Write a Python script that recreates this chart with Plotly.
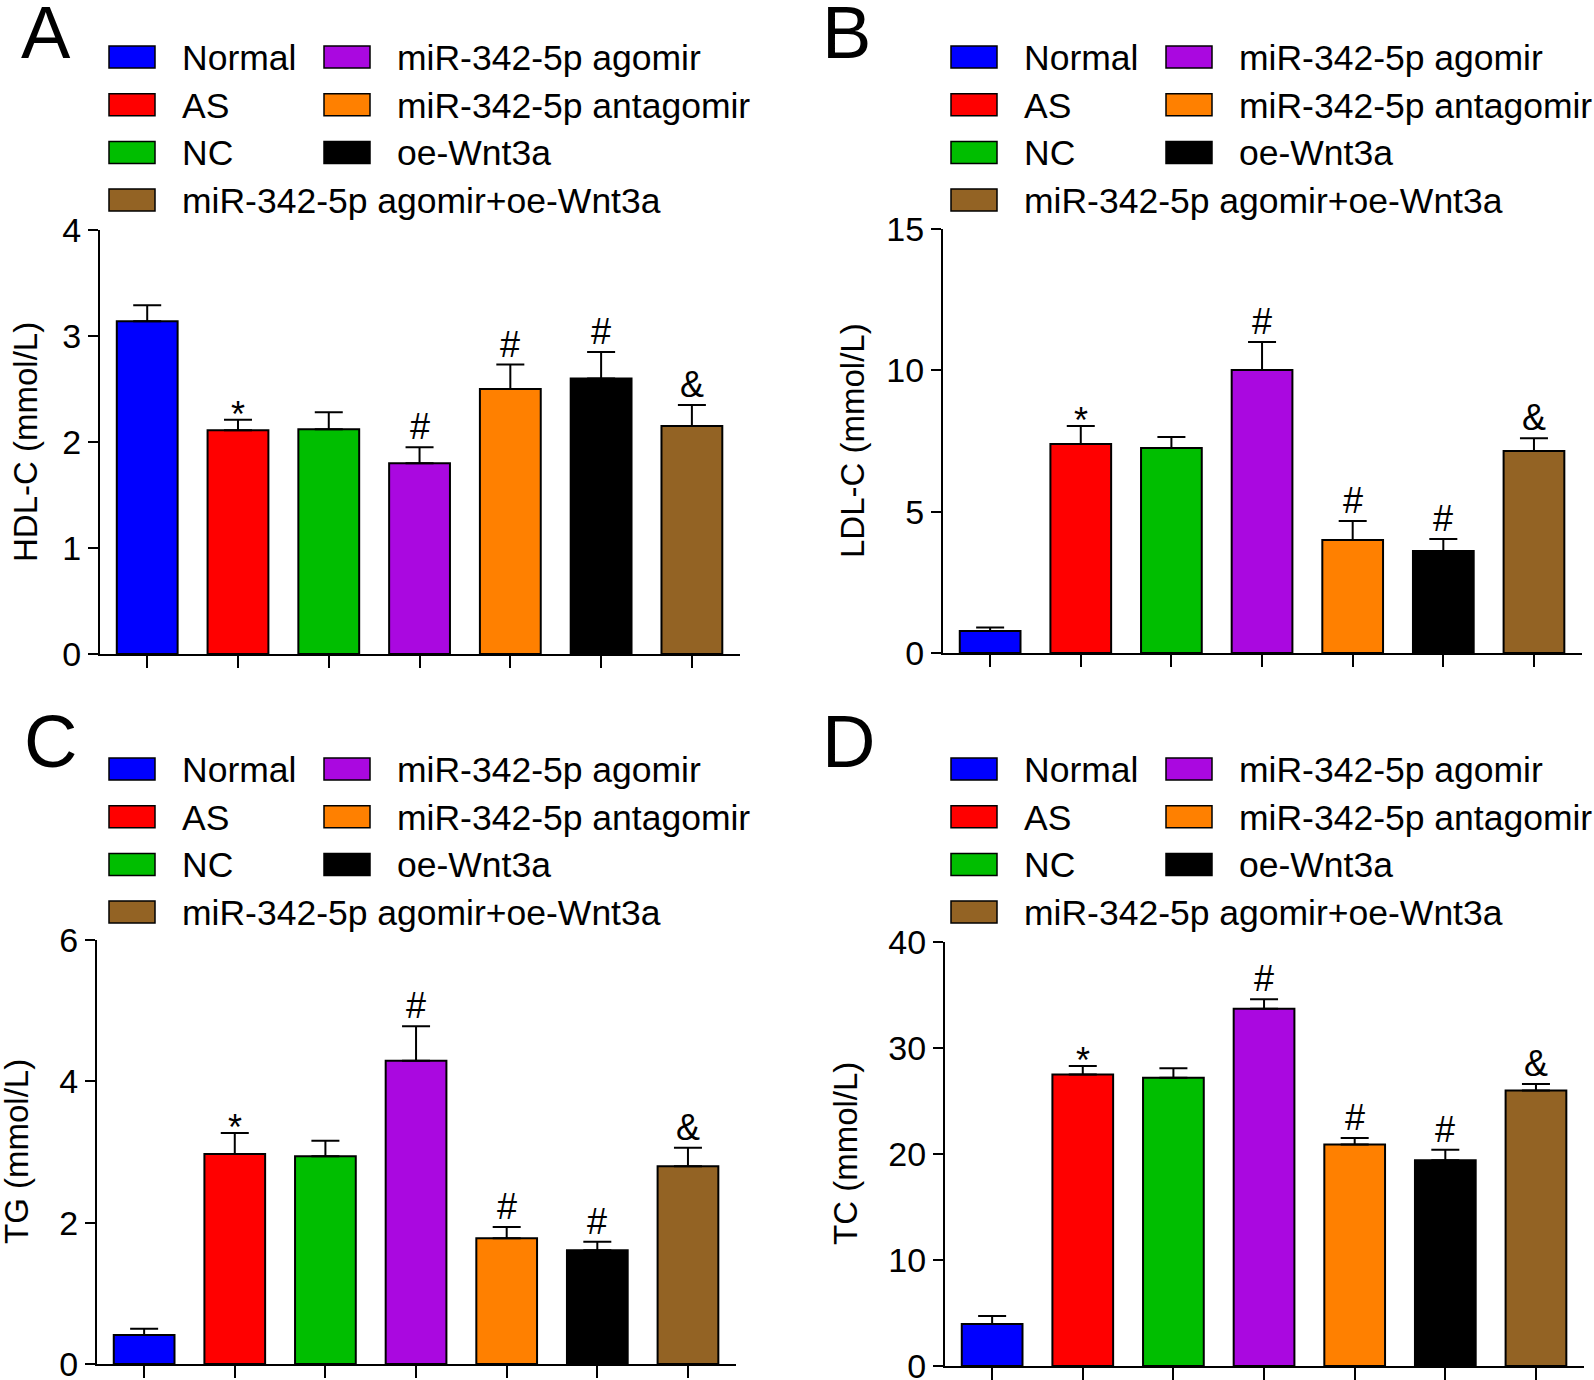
import plotly.graph_objects as go

# ---------------- data ----------------
categories = ["Normal", "AS", "NC", "miR-342-5p agomir", "miR-342-5p antagomir",
              "oe-Wnt3a", "miR-342-5p agomir+oe-Wnt3a"]
bar_colors = ["#0000FF", "#FF0000", "#00BE00", "#AA08E0", "#FF8000", "#000000", "#936324"]
marks = ["", "*", "", "#", "#", "#", "&"]

hdl_mean = [3.14, 2.11, 2.12, 1.80, 2.50, 2.60, 2.15]
hdl_sem = [0.15, 0.10, 0.16, 0.15, 0.23, 0.25, 0.20]
ldl_mean = [0.78, 7.39, 7.25, 10.01, 4.00, 3.61, 7.15]
ldl_sem = [0.12, 0.64, 0.39, 0.99, 0.67, 0.42, 0.45]
tg_mean = [0.41, 2.97, 2.94, 4.29, 1.78, 1.61, 2.80]
tg_sem = [0.09, 0.30, 0.22, 0.49, 0.16, 0.12, 0.26]
tc_mean = [3.96, 27.5, 27.2, 33.7, 20.9, 19.4, 26.0]
tc_sem = [0.76, 0.80, 0.90, 0.90, 0.60, 1.00, 0.60]

panel_letters = ["A", "B", "C", "D"]
y_titles = ["HDL-C (mmol/L)", "LDL-C (mmol/L)", "TG (mmol/L)", "TC (mmol/L)"]
y_max = [4, 15, 6, 40]
y_dtick = [1, 5, 2, 10]
means = [hdl_mean, ldl_mean, tg_mean, tc_mean]
sems = [hdl_sem, ldl_sem, tg_sem, tc_sem]

# ---------------- layout geometry (screen pixels) ----------------
W, H = 1594, 1380
FONT = "Liberation Sans, Arial, sans-serif"


def px(x):
    return x / W


def py(y):
    return 1 - y / H


# plot boxes: x0, x1, ytop, ybottom
boxes = [(100, 740, 230, 654), (943, 1582, 229, 653),
         (97, 736, 940, 1364), (945, 1584, 942, 1366)]
letter_pos = [(19, 32), (820, 32), (22, 741), (820, 741)]
title_x = [25, 852, 16, 845]
legend_origin = [(109, 57), (951, 57), (109, 769), (951, 769)]  # first swatch left, first row center
col_dx = 215
row_dy = 47.7
sw_w, sw_h = 46, 22
text_gap = 25

fig = go.Figure()
annotations = []
shapes = []

for p in range(4):
    xa = "x" if p == 0 else f"x{p + 1}"
    ya = "y" if p == 0 else f"y{p + 1}"
    xkey = "xaxis" if p == 0 else f"xaxis{p + 1}"
    ykey = "yaxis" if p == 0 else f"yaxis{p + 1}"
    x0, x1, yt, yb = boxes[p]

    fig.add_trace(go.Bar(
        x=list(range(len(categories))), y=means[p], xaxis=xa, yaxis=ya,
        width=0.67,
        marker=dict(color=bar_colors, line=dict(color="black", width=2)),
        error_y=dict(type="data", symmetric=False, array=sems[p],
                     arrayminus=[0] * len(categories),
                     color="black", thickness=2, width=14),
        showlegend=False, hoverinfo="skip"))

    fig.layout[xkey] = dict(
        domain=[px(x0), px(x1)], anchor=ya, range=[-0.52, 6.53],
        showline=True, linecolor="black", linewidth=2,
        ticks="outside", ticklen=12, tickwidth=2, tickcolor="black",
        tickvals=list(range(len(categories))), showticklabels=False,
        showgrid=False, zeroline=False, fixedrange=True, automargin=False)
    fig.layout[ykey] = dict(
        domain=[py(yb), py(yt)], anchor=xa, range=[0, y_max[p]],
        dtick=y_dtick[p], tick0=0,
        showline=True, linecolor="black", linewidth=2,
        ticks="outside", ticklen=10, tickwidth=2, tickcolor="black",
        tickfont=dict(family=FONT, size=34, color="black"),
        ticklabeloverflow="allow",
        showgrid=False, zeroline=False, fixedrange=True, automargin=False)

    # significance marks
    for i, m in enumerate(marks):
        if not m:
            continue
        annotations.append(dict(
            x=i, y=means[p][i] + sems[p][i], xref=xa, yref=ya,
            text=m, showarrow=False, yanchor="bottom", xanchor="center",
            yshift=(-17 if m == "*" else -2),
            font=dict(family=FONT, size=36, color="black")))

    # y-axis title
    annotations.append(dict(
        x=px(title_x[p]), y=py((yt + yb) / 2), xref="paper", yref="paper",
        text=y_titles[p], textangle=-90, showarrow=False,
        xanchor="center", yanchor="middle",
        font=dict(family=FONT, size=33, color="black")))

    # panel letter
    lx, ly = letter_pos[p]
    annotations.append(dict(
        x=px(lx), y=py(ly), xref="paper", yref="paper", text=panel_letters[p],
        showarrow=False, xanchor="left", yanchor="middle",
        font=dict(family=FONT, size=74, color="black")))

    # legend (two columns; last entry on its own row)
    ox, oy = legend_origin[p]
    for i, name in enumerate(categories):
        if i < 3:
            col, row = 0, i
        elif i < 6:
            col, row = 1, i - 3
        else:
            col, row = 0, 3
        sx = ox + col * col_dx
        sy = oy + row * row_dy
        shapes.append(dict(
            type="rect", xref="paper", yref="paper",
            x0=px(sx), x1=px(sx + sw_w), y0=py(sy + sw_h / 2), y1=py(sy - sw_h / 2),
            fillcolor=bar_colors[i], line=dict(color="black", width=1.5)))
        annotations.append(dict(
            x=px(sx + sw_w + text_gap), y=py(sy + 1), xref="paper", yref="paper",
            text=name, showarrow=False, xanchor="left", yanchor="middle",
            font=dict(family=FONT, size=35.5, color="black")))

fig.update_layout(
    width=W, height=H,
    margin=dict(l=0, r=0, t=0, b=0, pad=0, autoexpand=False),
    paper_bgcolor="white", plot_bgcolor="white",
    annotations=annotations, shapes=shapes, showlegend=False,
    font=dict(family=FONT, color="black"))

fig.write_html(
    "out.html",
    config={"displayModeBar": False, "staticPlot": True},
    post_script="document.body.style.margin='0';document.body.style.overflow='hidden';")
